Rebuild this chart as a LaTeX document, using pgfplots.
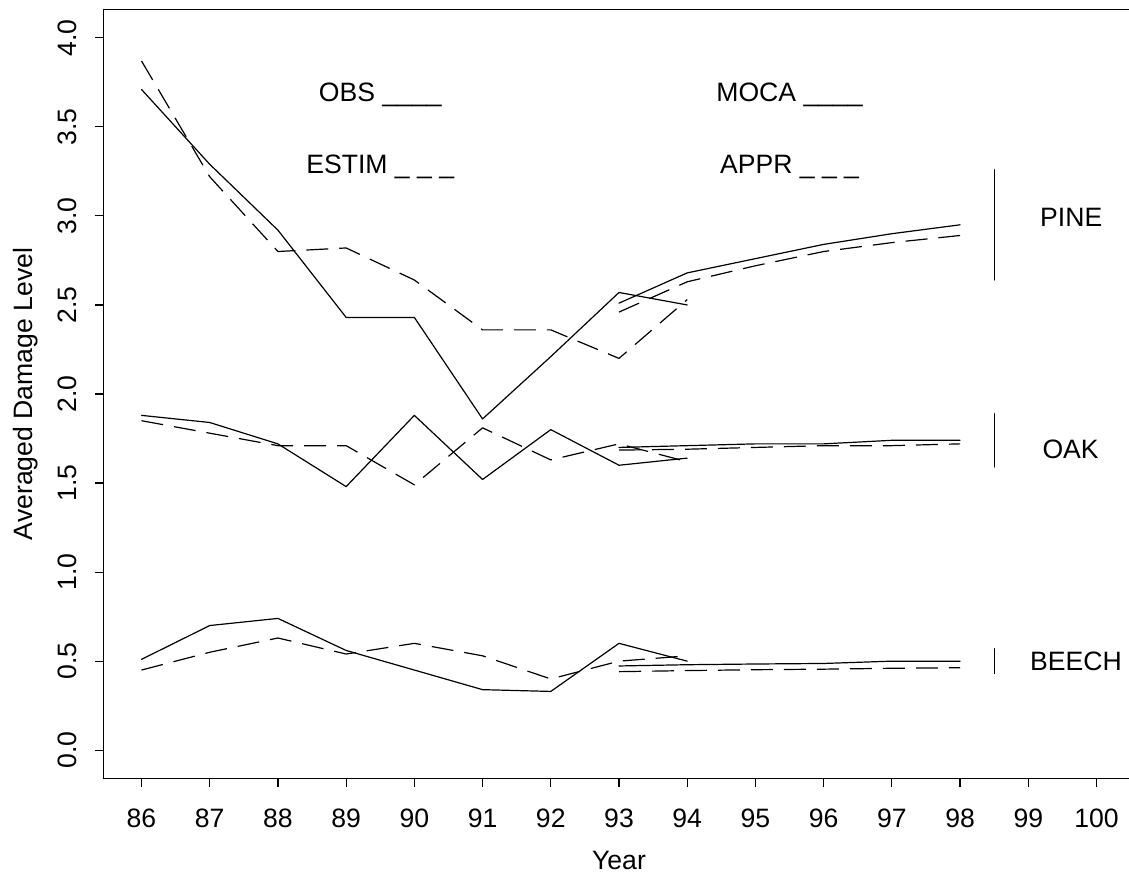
\documentclass[border=0pt]{standalone}
\usepackage{fontspec}
\setmainfont{Liberation Sans}
\usepackage{pgfplots}
\pgfplotsset{compat=1.18}

\begin{document}
\begin{tikzpicture}[font=\fontsize{13.3}{16}\selectfont]
\begin{axis}[
    at={(0,0)}, anchor=south west,
    scale only axis,
    width=515.7pt, height=384.7pt,
    xmin=85.44, xmax=100.56,
    ymin=-0.16, ymax=4.16,
    xtick={86,...,100},
    ytick={0,0.5,1,1.5,2,2.5,3,3.5,4},
    xtick pos=bottom, ytick pos=left,
    tick align=outside, major tick length=4pt,
    minor tick num=0,
    tick style={black, line width=0.6pt},
    axis line style={black, line width=0.6pt},
    /pgf/number format/assume math mode=true,
    xticklabel style={anchor=north, inner sep=0pt},
    yticklabel style={rotate=90, anchor=south, inner sep=0pt,
        /pgf/number format/fixed, /pgf/number format/fixed zerofill,
        /pgf/number format/precision=1},
    xticklabel shift=10.8pt,
    yticklabel shift=9.3pt,
    xlabel={Year},
    ylabel={Averaged Damage Level},
    every axis x label/.style={at={(axis description cs:0.5,0)}, anchor=base, yshift=-45.15pt},
    every axis y label/.style={at={(axis description cs:0,0.5)}, xshift=-35.5pt, rotate=90, anchor=base},
    obs/.style={black, line width=0.6pt, line join=round, line cap=round},
    est/.style={black, line width=0.6pt, line join=round, dash pattern=on 11pt off 5.5pt},
]
% PINE
\addplot[obs] coordinates {(86,3.71) (87,3.29) (88,2.92) (89,2.43) (90,2.43) (91,1.86) (92,2.21) (93,2.57) (94,2.50)};
\addplot[est] coordinates {(86,3.87) (87,3.22) (88,2.80) (89,2.82) (90,2.64) (91,2.36) (92,2.36) (93,2.20) (94,2.53)};
\addplot[obs] coordinates {(93,2.51) (94,2.68) (95,2.76) (96,2.84) (97,2.90) (98,2.95)};
\addplot[est] coordinates {(93,2.46) (94,2.63) (95,2.72) (96,2.80) (97,2.85) (98,2.89)};
% OAK
\addplot[obs] coordinates {(86,1.88) (87,1.84) (88,1.72) (89,1.48) (90,1.88) (91,1.52) (92,1.80) (93,1.60) (94,1.64)};
\addplot[est] coordinates {(86,1.85) (87,1.78) (88,1.71) (89,1.71) (90,1.49) (91,1.81) (92,1.63) (93,1.72) (94,1.62)};
\addplot[obs] coordinates {(93,1.70) (94,1.71) (95,1.72) (96,1.72) (97,1.74) (98,1.74)};
\addplot[est] coordinates {(93,1.685) (94,1.69) (95,1.70) (96,1.71) (97,1.71) (98,1.72)};
% BEECH
\addplot[obs] coordinates {(86,0.51) (87,0.70) (88,0.74) (89,0.56) (90,0.45) (91,0.34) (92,0.33) (93,0.60) (94,0.50)};
\addplot[est] coordinates {(86,0.45) (87,0.55) (88,0.63) (89,0.54) (90,0.60) (91,0.53) (92,0.40) (93,0.50) (94,0.53)};
\addplot[obs] coordinates {(93,0.473) (94,0.48) (95,0.484) (96,0.487) (97,0.50) (98,0.50)};
\addplot[est] coordinates {(93,0.441) (94,0.447) (95,0.452) (96,0.455) (97,0.46) (98,0.463)};
% species brackets
\addplot[obs] coordinates {(98.5,2.64) (98.5,3.26)};
\addplot[obs] coordinates {(98.5,1.59) (98.5,1.89)};
\addplot[obs] coordinates {(98.5,0.43) (98.5,0.57)};
% labels
\node[anchor=base] at (axis cs:89.5,3.64) {OBS \_\_\_\_};
\node[anchor=base] at (axis cs:89.5,3.24) {ESTIM \_ \_ \_};
\node[anchor=base] at (axis cs:95.5,3.64) {MOCA \_\_\_\_};
\node[anchor=base] at (axis cs:95.5,3.24) {APPR \_ \_ \_};
\node at (axis cs:99.63,2.99) {PINE};
\node at (axis cs:99.62,1.69) {OAK};
\node at (axis cs:99.7,0.50) {BEECH};
\end{axis}
\pgfresetboundingbox
\useasboundingbox (-51.65pt,-47.15pt) rectangle (512.85pt,389.35pt);
\end{tikzpicture}
\end{document}
